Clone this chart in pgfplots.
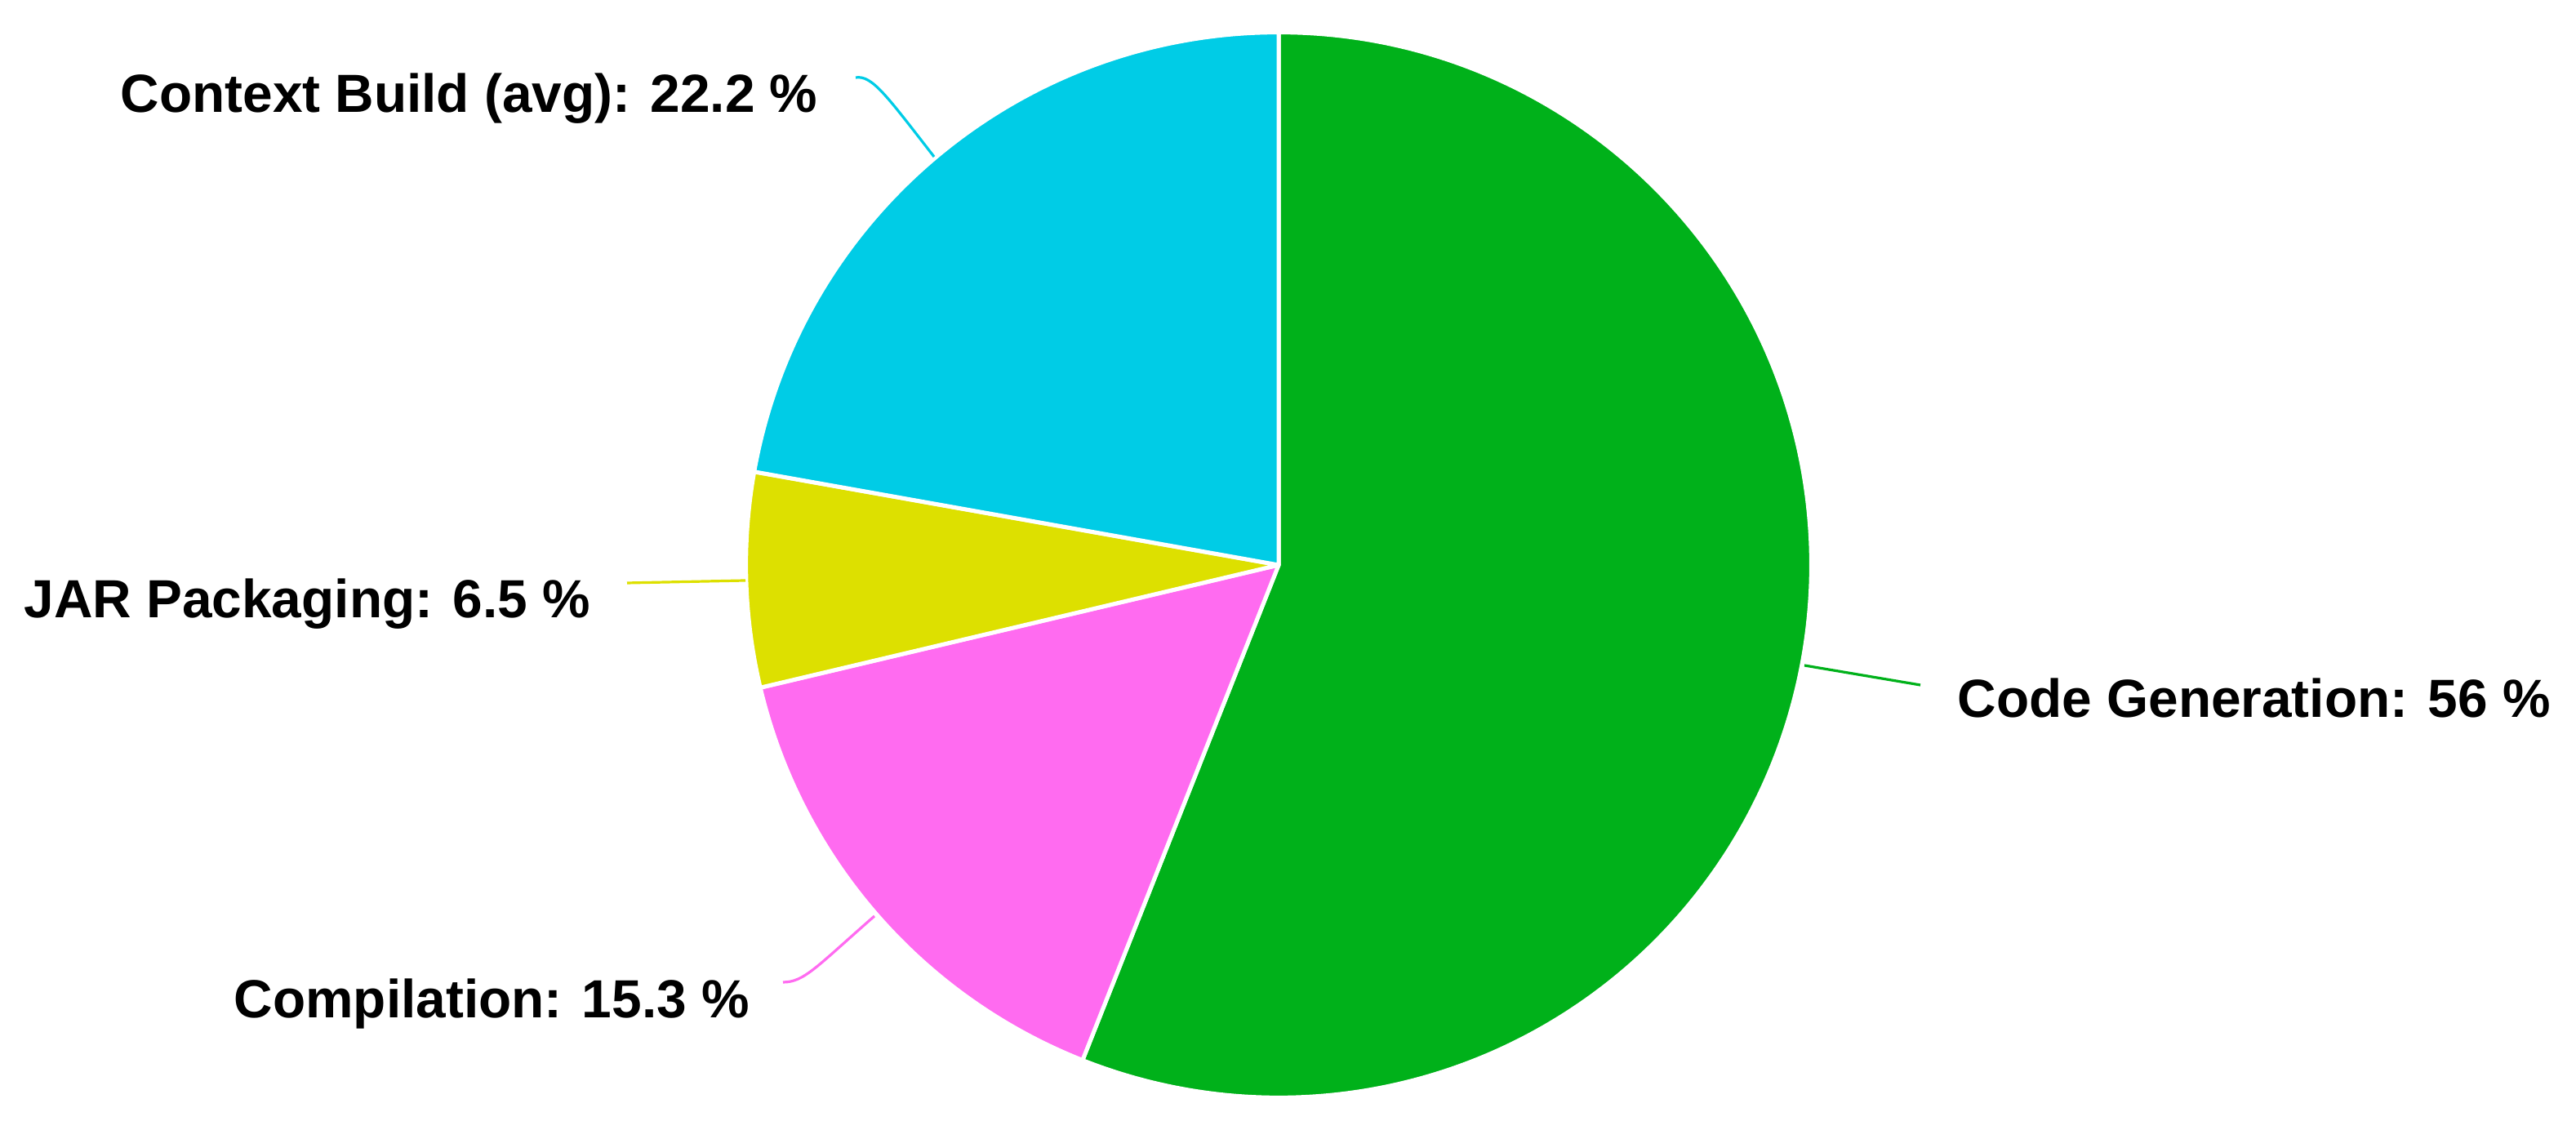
\documentclass[border=0pt]{standalone}
\usepackage{pgfplots}
\usepackage{pgfplotstable}
\pgfplotsset{compat=1.18}
\usepackage{fontspec}
\setmainfont{Liberation Sans}
\definecolor{cgen}{HTML}{00B11A}
\definecolor{comp}{HTML}{FF6BF0}
\definecolor{jar}{HTML}{DDE000}
\definecolor{ctx}{HTML}{00CCE6}

% share of build time, in slice order (clockwise from 12 o'clock)
\pgfplotstableread{
name value
CodeGeneration 56
Compilation 15.3
JARPackaging 6.5
ContextBuild 22.2
}\piedata

\begin{document}
\begin{tikzpicture}[
  slice/.style={draw=white, line width=0.05cm, line join=round},
  lead/.style={line width=0.032cm},
  lbl/.style={anchor=base west, inner sep=0pt, text=black,
    font=\fontsize{18.7pt}{22pt}\selectfont\bfseries},
]
\pgfplotstablegetelem{0}{value}\of\piedata \let\va\pgfplotsretval
\pgfplotstablegetelem{1}{value}\of\piedata \let\vb\pgfplotsretval
\pgfplotstablegetelem{2}{value}\of\piedata \let\vc\pgfplotsretval
\pgfplotstablegetelem{3}{value}\of\piedata \let\vd\pgfplotsretval
\pgfmathsetmacro{\aA}{90}
\pgfmathsetmacro{\aB}{\aA-3.6*\va}
\pgfmathsetmacro{\aC}{\aB-3.6*\vb}
\pgfmathsetmacro{\aD}{\aC-3.6*\vc}
\pgfmathsetmacro{\aE}{\aD-3.6*\vd}
\def\R{6.52cm}
\begin{axis}[
  hide axis,
  scale only axis,
  x=0.01cm, y=0.01cm,
  xmin=0, xmax=3155, ymin=0, ymax=1384,
  clip=false,
]
\path (axis cs:0,0) rectangle (axis cs:3155,1384);
\fill[cgen, slice] (axis cs:1566,692) -- ++(\aA:\R) arc[start angle=\aA, end angle=\aB, radius=\R] -- cycle;
\fill[comp, slice] (axis cs:1566,692) -- ++(\aB:\R) arc[start angle=\aB, end angle=\aC, radius=\R] -- cycle;
\fill[jar, slice] (axis cs:1566,692) -- ++(\aC:\R) arc[start angle=\aC, end angle=\aD, radius=\R] -- cycle;
\fill[ctx, slice] (axis cs:1566,692) -- ++(\aD:\R) arc[start angle=\aD, end angle=\aE, radius=\R] -- cycle;

% leader lines
\draw[cgen, lead] (axis cs:2210,569) -- (axis cs:2352,545);
\draw[comp, lead] (axis cs:1071,262) .. controls (axis cs:1000,200) and (axis cs:985,181) .. (axis cs:959,181);
\draw[jar, lead] (axis cs:913,673) -- (axis cs:768,670);
\draw[ctx, lead] (axis cs:1144,1192) .. controls (axis cs:1085,1268) and (axis cs:1068,1292) .. (axis cs:1048,1289);

% labels
\node[lbl] at (axis cs:2397,505) {Code Generation: 56 \%};
\node[lbl] at (axis cs:286,137) {Compilation: 15.3 \%};
\node[lbl] at (axis cs:29,627) {JAR Packaging: 6.5 \%};
\node[lbl] at (axis cs:147,1246) {Context Build (avg): 22.2 \%};
\end{axis}
\end{tikzpicture}
\end{document}
